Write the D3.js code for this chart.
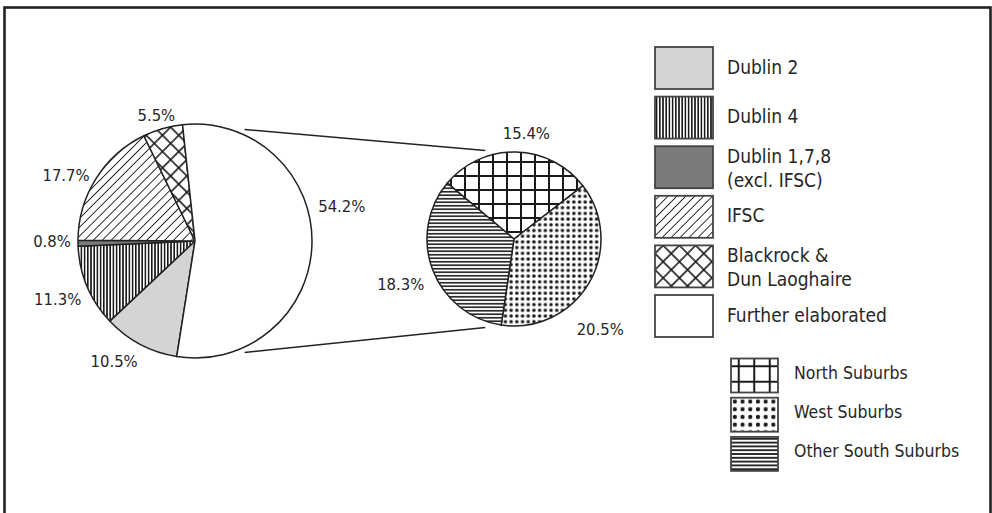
<!DOCTYPE html>
<html>
<head>
<meta charset="utf-8">
<script src="https://cdn.jsdelivr.net/npm/d3@7"></script>
<style>
  html, body { margin: 0; padding: 0; background: #fff; }
  svg text { font-family: "DejaVu Sans Condensed", "DejaVu Sans", sans-serif; font-stretch: condensed; fill: #262626; }
</style>
</head>
<body>
<div id="chart"></div>
<script>
// data (share of total, %)
const mainCategories = ["Dublin 2", "Dublin 4", "Dublin 1,7,8\n(excl. IFSC)", "IFSC", "Blackrock &\nDun Laoghaire", "Further elaborated"];
const mainShares = [10.5, 11.3, 0.8, 17.7, 5.5, 54.2];
const mainFills = ["url(#pDublin2)", "url(#pDublin4)", "url(#pDublin178)", "url(#pIFSC)", "url(#pBlackrock)", "#fff"];
const subCategories = ["North Suburbs", "West Suburbs", "Other South Suburbs"];
const subShares = [15.4, 20.5, 18.3];
const subFills = ["url(#pNorth)", "url(#pWest)", "url(#pOther)"];

// label placement tweaks (degrees / px)
const mainLabelNudge = [6, 0, 1, -5, -1, -15];
const mainLabelRadius = [145, 149, 143, 145, 132, 151];
const subLabelNudge = [5.5, 16, -1];
const subLabelRadius = [107, 125, 122];

const width = 992, height = 513;
const rad = d => d * Math.PI / 180;

const svg = d3.select("#chart").append("svg")
  .attr("width", width).attr("height", height);

// patterns
const defs = svg.append("defs");
function solid(id, col) {
  const p = defs.append("pattern").attr("id", id).attr("patternUnits", "userSpaceOnUse")
    .attr("width", 4).attr("height", 4);
  p.append("rect").attr("width", 4).attr("height", 4).attr("fill", col);
}
function stripes(id, size, lw, angle) {
  const p = defs.append("pattern").attr("id", id).attr("patternUnits", "userSpaceOnUse")
    .attr("width", size).attr("height", size)
    .attr("patternTransform", `rotate(${angle})`);
  p.append("rect").attr("width", size).attr("height", size).attr("fill", "#fff");
  p.append("line").attr("x1", size / 2).attr("x2", size / 2).attr("y1", 0).attr("y2", size)
    .attr("stroke", "#1a1a1a").attr("stroke-width", lw);
}
function grid(id, size, lw, angle) {
  const p = defs.append("pattern").attr("id", id).attr("patternUnits", "userSpaceOnUse")
    .attr("width", size).attr("height", size)
    .attr("patternTransform", `rotate(${angle})`);
  p.append("rect").attr("width", size).attr("height", size).attr("fill", "#fff");
  p.append("line").attr("x1", size / 2).attr("x2", size / 2).attr("y1", 0).attr("y2", size)
    .attr("stroke", "#1a1a1a").attr("stroke-width", lw);
  p.append("line").attr("y1", size / 2).attr("y2", size / 2).attr("x1", 0).attr("x2", size)
    .attr("stroke", "#1a1a1a").attr("stroke-width", lw);
}
function dots(id, size, r) {
  const p = defs.append("pattern").attr("id", id).attr("patternUnits", "userSpaceOnUse")
    .attr("width", size).attr("height", size);
  p.append("rect").attr("width", size).attr("height", size).attr("fill", "#fff");
  p.append("circle").attr("cx", size / 2).attr("cy", size / 2).attr("r", r).attr("fill", "#1a1a1a");
}
solid("pDublin2", "#d3d4d6");
stripes("pDublin4", 3.2, 1.6, 0);
solid("pDublin178", "#7a7b7d");
stripes("pIFSC", 6.3, 0.9, 45);
grid("pBlackrock", 11.5, 1.6, 45);
grid("pNorth", 14, 2, 0);
dots("pWest", 5.7, 1.75);
stripes("pOther", 3.5, 1.6, 90);
// slightly larger versions for the small legend boxes
grid("pNorthL", 15.5, 2, 0);
dots("pWestL", 7.7, 2.1);
stripes("pOtherL", 3.8, 1.8, 90);

// frame
svg.append("rect")
  .attr("x", 4.5).attr("y", 7.5).attr("width", 986).attr("height", 600)
  .attr("fill", "none").attr("stroke", "#222").attr("stroke-width", 2.6);

// main pie
const mainCx = 195, mainCy = 241, mainR = 117;
const subCx = 514, subCy = 239, subR = 87;

const mainPie = d3.pie().sort(null).value(d => d)
  .startAngle(rad(189)).endAngle(rad(549));
const mainArcs = mainPie(mainShares);
const arc = d3.arc().innerRadius(0);

const gMain = svg.append("g").attr("transform", `translate(${mainCx},${mainCy})`);
gMain.selectAll("path")
  .data(mainArcs)
  .join("path")
  .attr("d", d => arc.outerRadius(mainR)(d))
  .attr("fill", (d, i) => mainFills[i])
  .attr("stroke", "#222")
  .attr("stroke-width", 1.5)
  .attr("stroke-linejoin", "round");

gMain.selectAll("text")
  .data(mainArcs)
  .join("text")
  .attr("transform", (d, i) => {
    const a = (d.startAngle + d.endAngle) / 2 + rad(mainLabelNudge[i]);
    const r = mainLabelRadius[i];
    return `translate(${r * Math.sin(a)},${-r * Math.cos(a)})`;
  })
  .attr("text-anchor", "middle")
  .attr("dy", "0.36em")
  .style("font-size", "16.5px")
  .text(d => d.data.toFixed(1) + "%");

// connector lines from the big slice to the breakdown pie
const connA = rad(24), connB = rad(18);
const connectors = [
  [[mainCx + (mainR + 5) * Math.sin(connA), mainCy - (mainR + 5) * Math.cos(connA)],
   [subCx - (subR + 6) * Math.sin(connB), subCy - (subR + 6) * Math.cos(connB)]],
  [[mainCx + (mainR + 5) * Math.sin(connA), mainCy + (mainR + 5) * Math.cos(connA)],
   [subCx - (subR + 6) * Math.sin(connB), subCy + (subR + 6) * Math.cos(connB)]]
];
svg.selectAll("line.conn")
  .data(connectors)
  .join("line")
  .attr("class", "conn")
  .attr("x1", d => d[0][0]).attr("y1", d => d[0][1])
  .attr("x2", d => d[1][0]).attr("y2", d => d[1][1])
  .attr("stroke", "#222").attr("stroke-width", 1.5);

// breakdown pie
const subPie = d3.pie().sort(null).value(d => d)
  .startAngle(rad(-50)).endAngle(rad(310));
const subArcs = subPie(subShares);

const gSub = svg.append("g").attr("transform", `translate(${subCx},${subCy})`);
gSub.selectAll("path")
  .data(subArcs)
  .join("path")
  .attr("d", d => arc.outerRadius(subR)(d))
  .attr("fill", (d, i) => subFills[i])
  .attr("stroke", "#222")
  .attr("stroke-width", 1.5)
  .attr("stroke-linejoin", "round");

gSub.selectAll("text")
  .data(subArcs)
  .join("text")
  .attr("transform", (d, i) => {
    const a = (d.startAngle + d.endAngle) / 2 + rad(subLabelNudge[i]);
    const r = subLabelRadius[i];
    return `translate(${r * Math.sin(a)},${-r * Math.cos(a)})`;
  })
  .attr("text-anchor", "middle")
  .attr("dy", "0.36em")
  .style("font-size", "16.5px")
  .text(d => d.data.toFixed(1) + "%");

// legend (main categories)
const legY = d3.scaleBand().domain(d3.range(mainCategories.length)).range([47, 47 + 49.6 * 6]).paddingInner(0);
const leg = svg.append("g");
const items = leg.selectAll("g")
  .data(mainCategories)
  .join("g")
  .attr("transform", (d, i) => `translate(655,${legY(i)})`);
items.append("rect")
  .attr("width", 58).attr("height", 42)
  .attr("fill", (d, i) => mainFills[i])
  .attr("stroke", "#444").attr("stroke-width", 1.8);
items.each(function (d) {
  const lines = d.split("\n");
  const t = d3.select(this).append("text")
    .attr("x", 72)
    .style("font-size", "19px");
  lines.forEach((ln, j) => {
    t.append("tspan")
      .attr("x", 72)
      .attr("y", lines.length === 1 ? 26.5 : 17 + j * 23.5)
      .text(ln);
  });
});

// legend (breakdown)
const subLegFills = ["url(#pNorthL)", "url(#pWestL)", "url(#pOtherL)"];
const legY2 = d3.scaleBand().domain(d3.range(subCategories.length)).range([358.5, 358.5 + 39.2 * 3]);
const items2 = svg.append("g").selectAll("g")
  .data(subCategories)
  .join("g")
  .attr("transform", (d, i) => `translate(731,${legY2(i)})`);
items2.append("rect")
  .attr("width", 47).attr("height", 34)
  .attr("fill", (d, i) => subLegFills[i])
  .attr("stroke", "#444").attr("stroke-width", 1.8);
items2.append("text")
  .attr("x", 63).attr("y", 20)
  .style("font-size", "17.5px")
  .text(d => d);
</script>
</body>
</html>
